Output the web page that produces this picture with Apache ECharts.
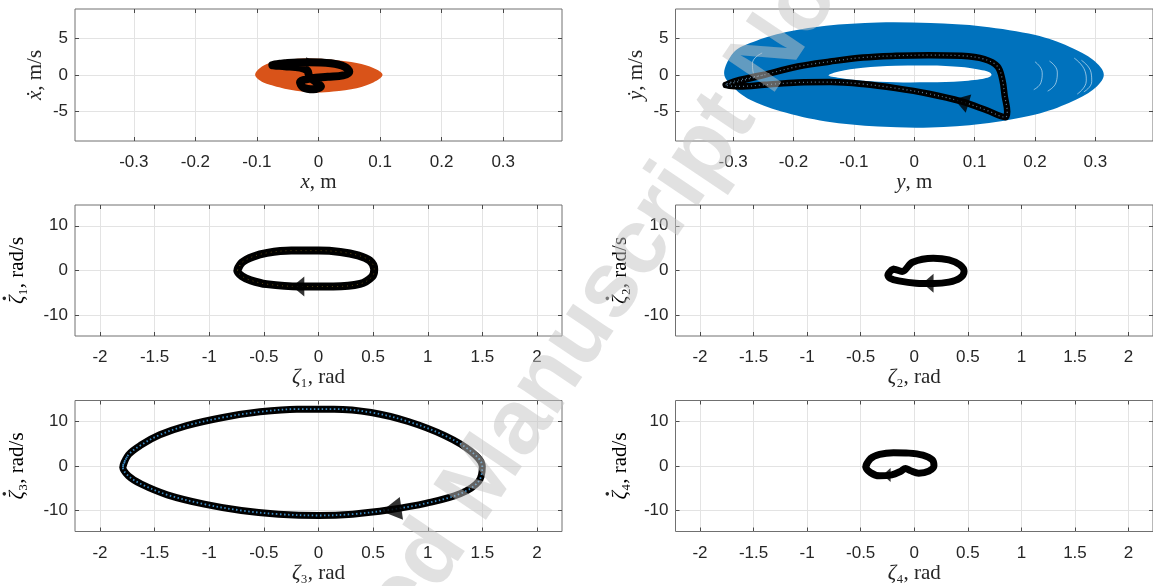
<!DOCTYPE html>
<html><head><meta charset="utf-8">
<script src="https://cdn.jsdelivr.net/npm/echarts@6/dist/echarts.min.js"></script>
<style>html,body{margin:0;padding:0;background:#fff}#c{width:1153px;height:586px}</style>
</head><body><div id="c"></div>
<script>
// ---------- tick values ----------
const xTicksPos = [-0.3, -0.2, -0.1, 0, 0.1, 0.2, 0.3];
const yTicksVel = [-5, 0, 5];
const xTicksAng = [-2, -1.5, -1, -0.5, 0, 0.5, 1, 1.5, 2];
const yTicksRate = [-10, 0, 10];

// ---------- panel x : orange cloud boundary + black loop ----------
const xCloudX = [-0.103,-0.095,-0.079,-0.052,-0.014,0.024,0.062,0.089,0.104,0.089,0.062,0.024,-0.008,-0.046,-0.079,-0.095];
const xCloudY = [0.03,0.94,1.62,2.07,2.25,2.07,1.62,0.94,0.03,-1.02,-1.79,-2.25,-2.39,-2.02,-1.34,-0.75];
const xLoopX = [-0.075,-0.05,-0.015,0.02,0.042,0.05,0.04,0.015,-0.012,-0.03,-0.025,-0.008,0.004,-0.005,-0.015,-0.018,-0.03,-0.055];
const xLoopY = [1.35,1.65,1.75,1.6,1.15,0.45,-0.05,-0.25,-0.45,-1.0,-1.7,-1.95,-1.55,-0.9,-0.2,0.6,1.0,1.2];
const xArrow = [-0.012, 1.75];

// ---------- panel y : blue annulus + black loop ----------
const yOuterX = [-0.315,-0.30,-0.272,-0.22,-0.146,-0.06,0.027,0.113,0.199,0.256,0.296,0.314,0.296,0.256,0.199,0.113,0.027,-0.06,-0.146,-0.22,-0.272,-0.30];
const yOuterY = [0.26,2.99,4.35,5.71,6.71,7.16,7.08,6.62,5.48,3.89,2.07,0.03,-2.02,-3.83,-5.43,-6.66,-7.16,-7.03,-6.34,-4.98,-3.38,-1.65];
const yInnerX = [-0.142,-0.123,-0.085,-0.031,0.024,0.078,0.116,0.128,0.116,0.078,0.024,-0.031,-0.085,-0.123];
const yInnerY = [-0.05,0.52,1.0,1.25,1.3,1.1,0.6,0.03,-0.48,-0.85,-1.0,-1.0,-0.78,-0.42];
// faint white streaks visible inside the blue band (x, y pairs per streak)
const yStreaksX = [[0.265,0.283,0.285,0.27],[0.277,0.293,0.294,0.281],[0.200,0.212,0.210,0.198],[0.224,0.237,0.235,0.221],[-0.252,-0.268,-0.267,-0.255]];
const yStreaksY = [[2.3,0.5,-0.8,-2.6],[2.0,0.3,-0.9,-2.3],[1.8,0.3,-1.0,-2.0],[1.9,0.4,-1.0,-2.2],[3.0,1.6,0.4,-0.4]];
const yLoopX = [-0.3124,-0.248,-0.193,-0.139,-0.085,-0.031,0.024,0.078,0.116,0.138,0.146,0.150,0.154,0.151,0.121,0.078,0.024,-0.031,-0.085,-0.139,-0.193,-0.248,-0.29];
const yLoopY = [-1.34,0.03,1.16,1.84,2.39,2.62,2.71,2.62,2.17,1.16,-0.65,-2.93,-4.97,-5.75,-4.84,-3.61,-2.56,-1.79,-1.24,-0.97,-1.02,-1.34,-1.56];
const yArrow = [0.078, -3.61];

// ---------- panel zeta1 ----------
const z1X = [-0.742,-0.70,-0.60,-0.47,-0.25,0.0,0.2,0.36,0.47,0.51,0.49,0.38,0.136,-0.17,-0.475,-0.62,-0.70];
const z1Y = [0,1.8,3.1,3.95,4.45,4.45,4.15,3.4,2.2,0.3,-1.4,-3.0,-3.58,-3.58,-3.05,-2.2,-1.3];
const z1Arrow = [-0.185, -3.58];

// ---------- panel zeta2 ----------
const z2X = [-0.245,-0.194,-0.113,-0.016,0.178,0.323,0.425,0.465,0.425,0.323,0.178,0.016,-0.145,-0.226];
const z2Y = [-0.97,0.3,-0.22,1.86,2.76,2.39,1.27,-0.22,-1.72,-2.61,-2.91,-2.83,-2.31,-1.72];
const z2Arrow = [0.129, -2.83];

// ---------- panel zeta3 ----------
const z3X = [-1.791,-1.740,-1.621,-1.452,-1.214,-0.875,-0.536,-0.197,0.142,0.482,0.821,1.160,1.397,1.499,1.465,1.296,0.990,0.651,0.312,0.0,-0.366,-0.706,-1.045,-1.384,-1.621,-1.740];
const z3Y = [-0.25,2.49,4.74,6.97,8.99,10.86,12.12,12.72,12.72,11.98,9.96,6.75,3.25,-0.1,-3.46,-6.22,-8.31,-9.8,-10.77,-11.07,-10.77,-9.95,-8.53,-6.44,-4.07,-2.21];
const z3Arrow = [0.668, -9.8];

// ---------- panel zeta4 ----------
const z4X = [-0.452,-0.41,-0.323,-0.194,-0.048,0.081,0.168,0.184,0.136,0.042,-0.039,-0.081,-0.129,-0.21,-0.323,-0.41];
const z4Y = [-0.1,1.61,2.58,2.95,2.88,2.43,1.39,0.04,-1.15,-1.6,-1.0,-0.55,-1.22,-1.97,-2.19,-1.45];
const z4Arrow = [-0.258, -2.0];

// ---------- axis titles ----------
const xNames = ['{i|x}{r|, m}', '{i|y}{r|, m}', '{i|ζ}{r|₁, rad}', '{i|ζ}{r|₂, rad}', '{i|ζ}{r|₃, rad}', '{i|ζ}{r|₄, rad}'];
const yNames = ['{i|ẋ}{r|, m/s}', '{i|ẏ}{r|, m/s}', null, null, null, null];
const zetaSubs = ['', '', '₁', '₂', '₃', '₄'];

// ---------- layout ----------
const panels = [
  {left:75,    top:9,     w:487, h:132, xlim:0.3955, ylim:9,     xt:xTicksPos, yt:yTicksVel,  ygap:29, lx:0},
  {left:675.5, top:9,     w:487, h:132, xlim:0.3955, ylim:9,     xt:xTicksPos, yt:yTicksVel,  ygap:29, lx:0},
  {left:75,    top:205,   w:487, h:131, xlim:2.2285, ylim:14.65, xt:xTicksAng, yt:yTicksRate, lx:17},
  {left:675.5, top:205,   w:487, h:131, xlim:2.2285, ylim:14.65, xt:xTicksAng, yt:yTicksRate, lx:620},
  {left:75,    top:400.5, w:487, h:131, xlim:2.2285, ylim:14.65, xt:xTicksAng, yt:yTicksRate, lx:17},
  {left:675.5, top:400.5, w:487, h:131, xlim:2.2285, ylim:14.65, xt:xTicksAng, yt:yTicksRate, lx:620}
];

const SERIF = '"Liberation Serif","DejaVu Serif",serif';
const SANS = '"Liberation Sans",Arial,sans-serif';
const richName = {
  i: {fontFamily: SERIF, fontStyle: 'italic', fontSize: 21, color: '#262626'},
  r: {fontFamily: SERIF, fontSize: 21, color: '#262626'}
};

const grids = [], xAxes = [], yAxes = [];
panels.forEach((p, k) => {
  grids.push({left: p.left, top: p.top, width: p.w, height: p.h, show: true, borderColor: '#707070', borderWidth: 1, backgroundColor: 'transparent'});
  const tickStyle = {color: '#4a4a4a'};
  xAxes.push({type:'value', gridIndex:k, min:-p.xlim, max:p.xlim, position:'bottom',
    axisLine:{show:false, onZero:false},
    axisTick:{show:true, inside:true, length:4, customValues:p.xt, lineStyle:tickStyle},
    axisLabel:{customValues:p.xt, margin:13, fontSize:17, color:'#262626', fontFamily:SANS},
    splitLine:{show:true, lineStyle:{color:'#e3e3e3', width:1}},
    name:xNames[k], nameLocation:'middle', nameGap:31, nameTextStyle:{rich:richName}});
  xAxes.push({type:'value', gridIndex:k, min:-p.xlim, max:p.xlim, position:'top',
    axisLine:{show:false, onZero:false}, axisLabel:{show:false}, splitLine:{show:false},
    axisTick:{show:true, inside:true, length:4, customValues:p.xt, lineStyle:tickStyle}});
  const ya = {type:'value', gridIndex:k, min:-p.ylim, max:p.ylim, position:'left',
    axisLine:{show:false, onZero:false},
    axisTick:{show:true, inside:true, length:4, customValues:p.yt, lineStyle:tickStyle},
    axisLabel:{customValues:p.yt, margin:7, fontSize:17, color:'#262626', fontFamily:SANS},
    splitLine:{show:true, lineStyle:{color:'#e3e3e3', width:1}}};
  if (yNames[k]) { ya.name = yNames[k]; ya.nameLocation = 'middle'; ya.nameGap = p.ygap; ya.nameTextStyle = {rich:richName}; }
  yAxes.push(ya);
  yAxes.push({type:'value', gridIndex:k, min:-p.ylim, max:p.ylim, position:'right',
    axisLine:{show:false, onZero:false}, axisLabel:{show:false}, splitLine:{show:false},
    axisTick:{show:true, inside:true, length:4, customValues:p.yt, lineStyle:tickStyle}});
});

// rotated ζ̇ titles, built as text with a separate dot accent
const mctx = document.createElement('canvas').getContext('2d');
function textW(font, s) { mctx.font = font; return mctx.measureText(s).width; }
const graphics = [];
panels.forEach((p, k) => {
  if (!zetaSubs[k]) return;
  const rest = zetaSubs[k] + ', rad/s';
  const wz = textW('italic 21px "Liberation Serif"', 'ζ');
  const W = wz + textW('21px "Liberation Serif"', rest);
  graphics.push({type:'group', x:p.lx, y:p.top + p.h / 2, rotation:Math.PI / 2, silent:true, children:[
    {type:'text', x:-W / 2, y:0, style:{text:'{i|ζ}{r|' + rest + '}', rich:richName,
      textAlign:'left', textVerticalAlign:'middle', align:'left', verticalAlign:'middle'}},
    {type:'text', x:-W / 2 + wz / 2 + 1.5, y:-11.5, style:{text:'·', font:'bold 22px "Liberation Serif"', fill:'#262626',
      textAlign:'center', textVerticalAlign:'middle', align:'center', verticalAlign:'middle'}}
  ]});
});
graphics.push({type:'text', x:673, y:197, rotation:56 * Math.PI / 180, z:100, silent:true,
  style:{text:'Accepted Manuscript Not Copyedited', font:'bold 92px "Liberation Sans", Arial, sans-serif',
    fill:'rgba(195,195,195,0.5)', textAlign:'center', textVerticalAlign:'middle', align:'center', verticalAlign:'middle'}});

// closed smooth path through screen points (rendering only)
function smoothClosed(pts, reverse) {
  if (reverse) pts = pts.slice().reverse();
  const n = pts.length;
  let d = 'M' + pts[0][0] + ' ' + pts[0][1];
  for (let i = 0; i < n; i++) {
    const p0 = pts[(i - 1 + n) % n], p1 = pts[i], p2 = pts[(i + 1) % n], p3 = pts[(i + 2) % n];
    const c1 = [p1[0] + (p2[0] - p0[0]) / 6, p1[1] + (p2[1] - p0[1]) / 6];
    const c2 = [p2[0] - (p3[0] - p1[0]) / 6, p2[1] - (p3[1] - p1[1]) / 6];
    d += ' C' + c1[0] + ' ' + c1[1] + ' ' + c2[0] + ' ' + c2[1] + ' ' + p2[0] + ' ' + p2[1];
  }
  return d + ' Z';
}

function areaSeries(k, outerX, outerY, innerX, innerY, color) {
  return {type:'custom', xAxisIndex:2*k, yAxisIndex:2*k, data:[0], z:1, silent:true,
    renderItem: function (params, api) {
      const outer = outerX.map((x, i) => api.coord([x, outerY[i]]));
      let d = smoothClosed(outer, false);
      if (innerX) {
        const inner = innerX.map((x, i) => api.coord([x, innerY[i]]));
        d += ' ' + smoothClosed(inner, true);
      }
      return {type:'path', shape:{pathData:d}, style:{fill:color, stroke:null}};
    }};
}
function streakSeries(k, X, Y) {
  return {type:'line', xAxisIndex:2*k, yAxisIndex:2*k, data:X.map((x, i) => [x, Y[i]]), smooth:0.5,
    symbol:'none', z:2, silent:true, lineStyle:{color:'rgba(255,255,255,0.55)', width:1}};
}

function loopData(X, Y) {
  const d = X.map((x, i) => [x, Y[i]]);
  d.push(d[0], d[1]);
  return d;
}
function loopSeries(k, X, Y, width) {
  return {type:'line', xAxisIndex:2*k, yAxisIndex:2*k, data:loopData(X, Y), smooth:0.35,
    symbol:'none', z:3, silent:true,
    lineStyle:{color:'#000', width:width, cap:'round', join:'round'}};
}
function textureSeries(k, X, Y, color, width, dash) {
  return {type:'line', xAxisIndex:2*k, yAxisIndex:2*k, data:loopData(X, Y), smooth:0.35,
    symbol:'none', z:4, silent:true,
    lineStyle:{color:color, width:width, type:dash, cap:'butt'}};
}
function arrowSeries(k, pt, rot, size) {
  return {type:'scatter', xAxisIndex:2*k, yAxisIndex:2*k, data:[pt], symbol:'triangle',
    symbolRotate:rot, symbolSize:size, z:5, silent:true,
    itemStyle:{color:'#000'}};
}

const series = [
  areaSeries(0, xCloudX, xCloudY, null, null, '#D95319'),
  loopSeries(0, xLoopX, xLoopY, 8),
  arrowSeries(0, xArrow, -90, [10, 10]),

  areaSeries(1, yOuterX, yOuterY, yInnerX, yInnerY, '#0072BD'),
  ...yStreaksX.map((sx, j) => streakSeries(1, sx, yStreaksY[j])),
  loopSeries(1, yLoopX, yLoopY, 6.5),
  textureSeries(1, yLoopX, yLoopY, '#5d7f9c', 1.2, [1, 3]),
  arrowSeries(1, yArrow, 73, [19, 15]),

  loopSeries(2, z1X, z1Y, 8),
  textureSeries(2, z1X, z1Y, '#5e4a14', 1, [1, 4]),
  arrowSeries(2, z1Arrow, 90, [20, 12]),

  loopSeries(3, z2X, z2Y, 7),
  arrowSeries(3, z2Arrow, 90, [19, 11]),

  loopSeries(4, z3X, z3Y, 7),
  textureSeries(4, z3X, z3Y, '#3d8cc4', 1.8, [1.5, 2.5]),
  arrowSeries(4, z3Arrow, 98, [23, 20]),

  loopSeries(5, z4X, z4Y, 7),
  arrowSeries(5, z4Arrow, 90, [14, 8])
];

const chart = echarts.init(document.getElementById('c'), null, {renderer:'canvas'});
chart.setOption({
  animation:false,
  backgroundColor:'#ffffff',
  grid:grids, xAxis:xAxes, yAxis:yAxes, series:series,
  graphic:graphics
});
</script>
</body></html>
